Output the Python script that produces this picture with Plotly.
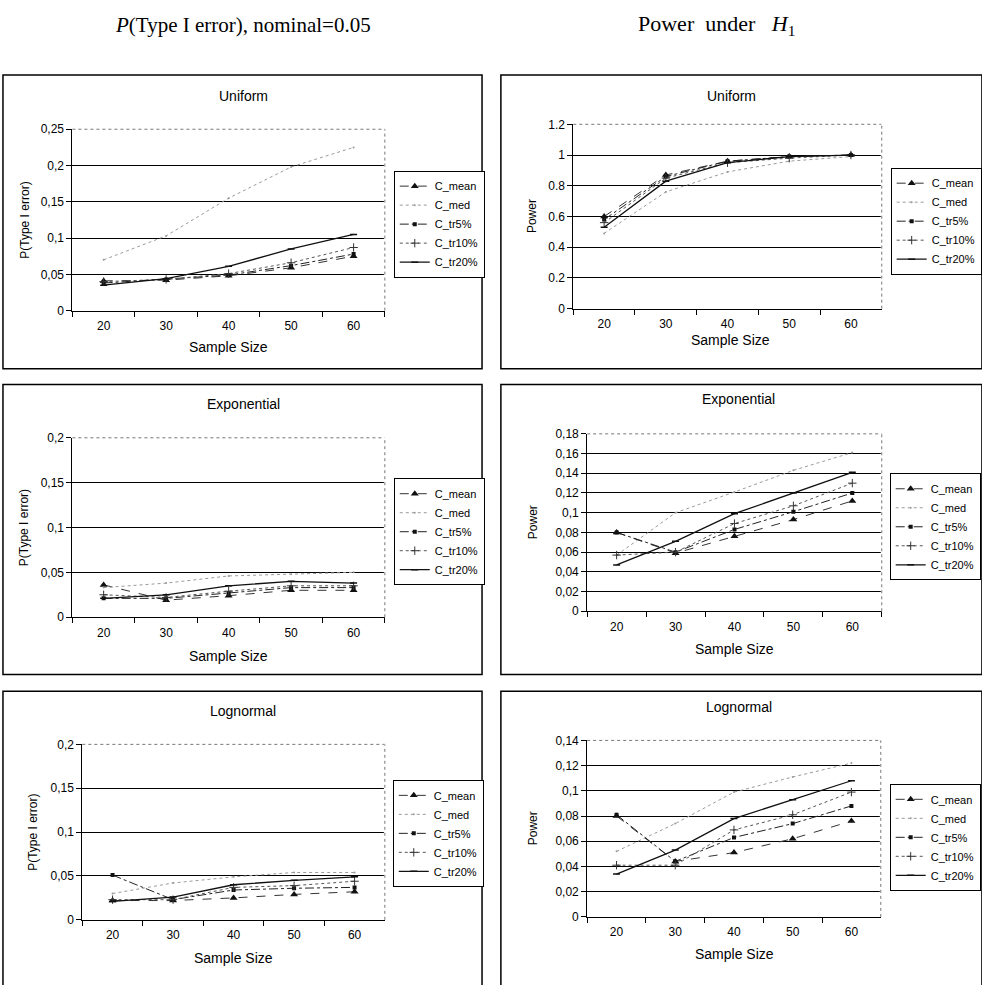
import plotly.graph_objects as go

W, H = 982, 985

# ---------------- data ----------------
sample_sizes = ["20", "30", "40", "50", "60"]
series_names = ["C_mean", "C_med", "C_tr5%", "C_tr10%", "C_tr20%"]

# Uniform, P(Type I error)
uni_err_mean = [0.041, 0.042, 0.048, 0.059, 0.075]
uni_err_med = [0.070, 0.103, 0.155, 0.198, 0.225]
uni_err_tr5 = [0.038, 0.043, 0.049, 0.062, 0.078]
uni_err_tr10 = [0.040, 0.043, 0.051, 0.066, 0.087]
uni_err_tr20 = [0.035, 0.044, 0.061, 0.085, 0.105]

# Uniform, power
uni_pow_mean = [0.60, 0.87, 0.96, 0.99, 1.00]
uni_pow_med = [0.49, 0.76, 0.89, 0.96, 0.99]
uni_pow_tr5 = [0.58, 0.86, 0.96, 0.99, 1.00]
uni_pow_tr10 = [0.56, 0.85, 0.95, 0.98, 1.00]
uni_pow_tr20 = [0.53, 0.83, 0.95, 0.99, 1.00]

# Exponential, P(Type I error)
exp_err_mean = [0.036, 0.019, 0.024, 0.030, 0.030]
exp_err_med = [0.033, 0.038, 0.046, 0.048, 0.050]
exp_err_tr5 = [0.021, 0.021, 0.027, 0.033, 0.033]
exp_err_tr10 = [0.025, 0.022, 0.029, 0.035, 0.035]
exp_err_tr20 = [0.021, 0.025, 0.035, 0.040, 0.038]

# Exponential, power
exp_pow_mean = [0.080, 0.059, 0.076, 0.093, 0.112]
exp_pow_med = [0.057, 0.100, 0.121, 0.143, 0.161]
exp_pow_tr5 = [0.080, 0.060, 0.083, 0.101, 0.120]
exp_pow_tr10 = [0.057, 0.060, 0.089, 0.107, 0.130]
exp_pow_tr20 = [0.047, 0.071, 0.099, 0.120, 0.141]

# Lognormal, P(Type I error)
log_err_mean = [0.022, 0.022, 0.025, 0.029, 0.032]
log_err_med = [0.030, 0.042, 0.049, 0.054, 0.054]
log_err_tr5 = [0.051, 0.023, 0.034, 0.036, 0.037]
log_err_tr10 = [0.023, 0.023, 0.037, 0.039, 0.044]
log_err_tr20 = [0.021, 0.026, 0.040, 0.045, 0.049]

# Lognormal, power
log_pow_mean = [0.080, 0.044, 0.051, 0.062, 0.076]
log_pow_med = [0.052, 0.074, 0.099, 0.111, 0.122]
log_pow_tr5 = [0.081, 0.044, 0.063, 0.074, 0.088]
log_pow_tr10 = [0.041, 0.041, 0.069, 0.081, 0.099]
log_pow_tr20 = [0.034, 0.053, 0.078, 0.093, 0.108]

# y tick labels
err25_vals = [0, 0.05, 0.10, 0.15, 0.20, 0.25]
err25_text = ["0", "0,05", "0,1", "0,15", "0,2", "0,25"]
err20_vals = [0, 0.05, 0.10, 0.15, 0.20]
err20_text = ["0", "0,05", "0,1", "0,15", "0,2"]
pow12_vals = [0, 0.2, 0.4, 0.6, 0.8, 1.0, 1.2]
pow12_text = ["0", "0.2", "0.4", "0.6", "0.8", "1", "1.2"]
pow18_vals = [0, 0.02, 0.04, 0.06, 0.08, 0.10, 0.12, 0.14, 0.16, 0.18]
pow18_text = ["0", "0,02", "0,04", "0,06", "0,08", "0,1", "0,12", "0,14", "0,16", "0,18"]
pow14_vals = [0, 0.02, 0.04, 0.06, 0.08, 0.10, 0.12, 0.14]
pow14_text = ["0", "0,02", "0,04", "0,06", "0,08", "0,1", "0,12", "0,14"]

# ---------------- styles ----------------
SANS = "Liberation Sans"
SERIF = "Liberation Serif"
styles = [
    dict(line=dict(color="#333333", width=1, dash="dash"),
         marker=dict(symbol="triangle-up", size=7, color="#111111"), mode="lines+markers"),
    dict(line=dict(color="#9a9a9a", width=1, dash="dot"),
         marker=dict(symbol="circle", size=2, color="#9a9a9a"), mode="lines+markers"),
    dict(line=dict(color="#222222", width=1, dash="dashdot"),
         marker=dict(symbol="square", size=4, color="#111111"), mode="lines+markers"),
    dict(line=dict(color="#555555", width=1, dash="dot"),
         marker=dict(symbol="cross-thin", size=6, color="#333333", line=dict(width=1, color="#333333")),
         mode="lines+markers"),
    dict(line=dict(color="#111111", width=1.3, dash="solid"),
         marker=dict(symbol="line-ew", size=5, color="#111111", line=dict(width=1.5, color="#111111")),
         mode="lines+markers"),
]

def X(p):
    return p / W

def Y(p):
    return 1 - p / H

panels = [
    dict(title="Uniform", data=[uni_err_mean, uni_err_med, uni_err_tr5, uni_err_tr10, uni_err_tr20],
         xd=(73, 388), yd=(124, 308), tv=err25_vals, tt=err25_text, ytitle="P(Type I error)",
         ytx=25, box=(3, 69, 486, 367), tpos=(245, 90), stpos=(230, 345), leg=(397, 166)),
    dict(title="Uniform", data=[uni_pow_mean, uni_pow_med, uni_pow_tr5, uni_pow_tr10, uni_pow_tr20],
         xd=(578, 889), yd=(119, 306), tv=pow12_vals, tt=pow12_text, ytitle="Power",
         ytx=537, box=(505, 69, 990, 367), tpos=(738, 90), stpos=(737, 338), leg=(898, 163)),
    dict(title="Exponential", data=[exp_err_mean, exp_err_med, exp_err_tr5, exp_err_tr10, exp_err_tr20],
         xd=(73, 388), yd=(437, 619), tv=err20_vals, tt=err20_text, ytitle="P(Type I error)",
         ytx=25, box=(3, 383, 486, 677), tpos=(245, 403), stpos=(230, 658), leg=(397, 478)),
    dict(title="Exponential", data=[exp_pow_mean, exp_pow_med, exp_pow_tr5, exp_pow_tr10, exp_pow_tr20],
         xd=(592, 889), yd=(433, 613), tv=pow18_vals, tt=pow18_text, ytitle="Power",
         ytx=537, box=(505, 383, 990, 677), tpos=(745, 398), stpos=(741, 651), leg=(897, 473)),
    dict(title="Lognormal", data=[log_err_mean, log_err_med, log_err_tr5, log_err_tr10, log_err_tr20],
         xd=(83, 388), yd=(748, 926), tv=err20_vals, tt=err20_text, ytitle="P(Type I error)",
         ytx=33, box=(3, 694, 486, 995), tpos=(245, 714), stpos=(235, 965), leg=(396, 784)),
    dict(title="Lognormal", data=[log_pow_mean, log_pow_med, log_pow_tr5, log_pow_tr10, log_pow_tr20],
         xd=(592, 888), yd=(744, 923), tv=pow14_vals, tt=pow14_text, ytitle="Power",
         ytx=537, box=(505, 694, 990, 995), tpos=(745, 710), stpos=(741, 961), leg=(897, 788)),
]

fig = go.Figure()
layout = dict(
    width=W, height=H, autosize=False,
    margin=dict(l=0, r=0, t=0, b=0),
    paper_bgcolor="white", plot_bgcolor="white",
    font=dict(family=SANS, size=12, color="black"),
    showlegend=True,
)
shapes = []
annotations = []

for i, p in enumerate(panels, start=1):
    sfx = "" if i == 1 else str(i)
    xref = f"x{sfx}"
    yref = f"y{sfx}"
    legid = f"legend{sfx}"
    for name, vals, st in zip(series_names, p["data"], styles):
        fig.add_trace(go.Scatter(
            x=sample_sizes, y=vals, name=name, mode=st["mode"],
            line=st["line"], marker=st["marker"],
            xaxis=xref, yaxis=yref, legend=legid, showlegend=True,
        ))
    ymax = p["tv"][-1]
    layout[f"xaxis{sfx}"] = dict(
        domain=[X(p["xd"][0]), X(p["xd"][1])], anchor=yref,
        type="category", categoryorder="array", categoryarray=sample_sizes,
        range=[-0.5, 4.5], tickson="boundaries", ticks="outside", ticklen=5,
        tickcolor="black", showline=True, linecolor="black", linewidth=1,
        showgrid=False, zeroline=False, tickfont=dict(size=12, family=SANS),
        ticklabelstandoff=4, fixedrange=True,
    )
    layout[f"yaxis{sfx}"] = dict(
        domain=[Y(p["yd"][1]), Y(p["yd"][0])], anchor=xref,
        range=[0, ymax], tickvals=p["tv"], ticktext=p["tt"],
        ticks="outside", ticklen=5, tickcolor="black",
        showline=True, linecolor="black", linewidth=1,
        showgrid=True, gridcolor="black", gridwidth=1, zeroline=False,
        tickfont=dict(size=12, family=SANS), fixedrange=True,
    )
    layout[legid] = dict(
        x=X(p["leg"][0]), y=Y(p["leg"][1]), xanchor="left", yanchor="top",
        xref="paper", yref="paper",
        bgcolor="white", bordercolor="black", borderwidth=1,
        font=dict(size=11, family=SANS, color="black"),
        itemwidth=30, tracegroupgap=0, traceorder="normal",
    )
    # panel frame
    bx0, by0, bx1, by1 = p["box"]
    shapes.append(dict(type="rect", xref="paper", yref="paper",
                       x0=X(bx0), x1=X(bx1), y0=Y(by1), y1=Y(by0),
                       line=dict(color="black", width=1.5), fillcolor="rgba(0,0,0,0)",
                       layer="below"))
    # dotted top and right border of plot area
    for (x0, y0, x1, y1) in [(0, 1, 1, 1), (1, 0, 1, 1)]:
        shapes.append(dict(type="line", xref=f"{xref} domain", yref=f"{yref} domain",
                           x0=x0, y0=y0, x1=x1, y1=y1,
                           line=dict(color="white", width=2), layer="above"))
        shapes.append(dict(type="line", xref=f"{xref} domain", yref=f"{yref} domain",
                           x0=x0, y0=y0, x1=x1, y1=y1,
                           line=dict(color="#777777", width=1, dash="dot"), layer="above"))
    # titles
    annotations.append(dict(text=p["title"], x=X(p["tpos"][0]), y=Y(p["tpos"][1]),
                            xref="paper", yref="paper", showarrow=False,
                            xanchor="center", yanchor="middle",
                            font=dict(size=14, family=SANS)))
    annotations.append(dict(text="Sample Size", x=X(p["stpos"][0]), y=Y(p["stpos"][1]),
                            xref="paper", yref="paper", showarrow=False,
                            xanchor="center", yanchor="middle",
                            font=dict(size=14, family=SANS)))
    yc = (p["yd"][0] + p["yd"][1]) / 2
    annotations.append(dict(text=p["ytitle"], x=X(p["ytx"]), y=Y(yc),
                            xref="paper", yref="paper", showarrow=False, textangle=-90,
                            xanchor="center", yanchor="middle",
                            font=dict(size=12, family=SANS)))

# column headers
annotations.append(dict(text="<i>P</i>(Type I error), nominal=0.05", x=X(245), y=Y(18),
                        xref="paper", yref="paper", showarrow=False,
                        xanchor="center", yanchor="middle",
                        font=dict(size=21, family=SERIF, color="black")))
annotations.append(dict(text="Power  under   <i>H</i><sub>1</sub>", x=X(722), y=Y(18),
                        xref="paper", yref="paper", showarrow=False,
                        xanchor="center", yanchor="middle",
                        font=dict(size=22, family=SERIF, color="black")))

layout["shapes"] = shapes
layout["annotations"] = annotations
fig.update_layout(**layout)

fig.write_html("out.html")
